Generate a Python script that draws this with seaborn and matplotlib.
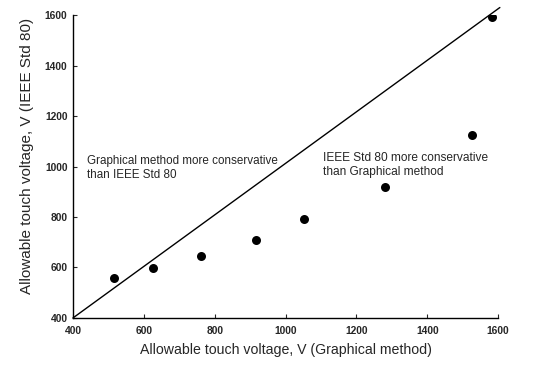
import matplotlib
matplotlib.use("Agg")
import matplotlib.pyplot as plt
import seaborn as sns
import pandas as pd

graphical = [517, 625, 762, 916, 1052, 1281, 1525, 1584]
ieee = [557, 597, 647, 709, 793, 919, 1126, 1592]
line_x = [400, 1605]
line_y = [400, 1630]
ticks = [400, 600, 800, 1000, 1200, 1400, 1600]

sns.set_style("ticks")
plt.rcParams['font.family'] = ['Liberation Sans', 'DejaVu Sans']

fig = plt.figure(figsize=(5.35, 3.68), dpi=100)
ax = fig.add_axes([0.1364, 0.136, 0.7946, 0.823])

df = pd.DataFrame({"g": graphical, "i": ieee})
sns.lineplot(x=line_x, y=line_y, ax=ax, color="black", linewidth=1.0)
sns.scatterplot(data=df, x="g", y="i", ax=ax, color="black", s=42, edgecolor="black", linewidth=0, zorder=3)

ax.set_xlim(400, 1600)
ax.set_ylim(400, 1600)
ax.set_xticks(ticks)
ax.set_yticks(ticks)
ax.set_xticklabels([str(t) for t in ticks], fontsize=7.4, fontweight="bold")
ax.set_yticklabels([str(t) for t in ticks], fontsize=7.4, fontweight="bold")
ax.tick_params(direction="in", length=3, width=0.8, pad=4)
ax.tick_params(axis="x", pad=6)
for s in ["top", "right"]:
    ax.spines[s].set_visible(False)
for s in ["left", "bottom"]:
    ax.spines[s].set_linewidth(1.0)
    ax.spines[s].set_color("black")

ax.set_xlabel("Allowable touch voltage, V (Graphical method)", fontsize=10.2, labelpad=5)
ax.set_ylabel("Allowable touch voltage, V (IEEE Std 80)", fontsize=11)
ax.yaxis.set_label_coords(-0.092, 0.535)

ax.text(440, 1045, "Graphical method more conservative\nthan IEEE Std 80", fontsize=8.4,
        va="top", ha="left", linespacing=1.2)
ax.text(1106, 1058, "IEEE Std 80 more conservative\nthan Graphical method", fontsize=8.6,
        va="top", ha="left", linespacing=1.2)

for l in ax.lines:
    l.set_clip_on(False)

fig.savefig("out.png", dpi=100)
